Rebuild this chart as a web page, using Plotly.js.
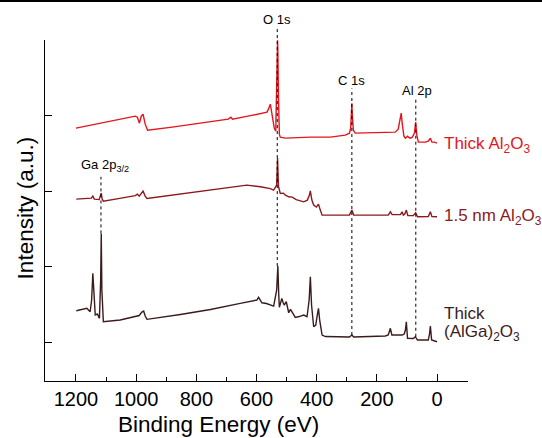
<!DOCTYPE html>
<html>
<head>
<meta charset="utf-8">
<script src="https://cdn.plot.ly/plotly-3.0.1.min.js"></script>
<style>html,body{margin:0;padding:0;background:#fff;}#chart{width:542px;height:438px;}</style>
</head>
<body>
<div id="chart"></div>
<script>
// Binding energy (eV) and intensity (a.u.) for each spectrum
const energyThickAl2O3 = [1200,1003,996,989,983,977,970,962,880,787,694,685,680,620,565,559,554,548,541,536,533,531,530,529,527,524,521,504,420,354,305,291,287,284,283,282,278,272,230,188,139,129,122,119,115,110,105,102,98,95,89,82,75,72,71,70,67,62,39,29,22,17,9,0];
const intensityThickAl2O3 = [253,265,264,258,265,267,257,251,254,258,262,264,262,265.5,269,273,277,266,253,250,285,330,341,330,285,247,244,243,244,244,246,248,253,270,278,268,251,248,248.5,248.5,249,252,263,268,256,245,243,244,245,244,243,244,248,256,259,255,246,239,239,240,243,239,239,238];

const energyThin = [1199,1159,1149,1144,1139,1123,1116,1113,1109,1050,1003,996,990,977,970,964,880,787,700,632,587,571,554,543,533,530,527,521,511,504,493,481,468,443,431,424,421,416,410,401,394,388,382,321,291,283,277,162,155,149,122,116,112,107,102,97,79,71,65,29,22,17,0];
const intensityThin = [182,182.5,183,185,182,181.5,188,182,180,183,185.5,187,185,190,185,182.7,186,189.5,193,196,194.3,193.5,192.5,191,196,223,195,187.7,188,186,184.3,184,181.5,179.3,181,186,190.3,181,176,174,177,171,166,166,166,171,166,166,169.3,166.5,166.5,169.3,166,167,171,165.5,165.5,168.3,164.3,164.5,169.3,164.5,164.3];

const energyThickAlGa = [1199,1164,1153,1148,1144,1140,1136,1129,1122,1118,1116,1114,1109,1053,998,990,981,975,970,964,853,753,654,621,599,593,582,567,554,543,533,529,526,524,520,516,511,508,501,493,487,479,471,458,443,432,425,421,417,410,403,398,394,390,382,371,321,291,283,277,172,162,155,150,125,116,109,105,102,98,79,72,65,29,25,22,18,0];
const intensityThickAlGa = [70.3,72.7,69.3,81,107.7,81,66,67,62.7,101,147.7,91,59.3,61,64.3,65.5,69,70,65,61.7,66.5,71.5,77.7,79.5,81,83.7,78.3,77.5,76.5,75,91,115,86,73.7,78,82.7,78,76,79.3,68.3,71.7,67,63.7,64.5,66,64.3,81,104.3,76,54.3,56,66,72.7,61,46,44.5,44.3,44,46,44,45,46,52.7,46,46,46,47,51,59.3,42.7,42.5,44.3,41,41,47,55,41,39.3];

const seriesNames = ['Thick Al<sub>2</sub>O<sub>3</sub>', '1.5 nm Al<sub>2</sub>O<sub>3</sub>', 'Thick', '(AlGa)<sub>2</sub>O<sub>3</sub>'];
const peakNames = ['Ga 2p<sub>3/2</sub>', 'O 1s', 'C 1s', 'Al 2p'];
const peakEnergies = [1117, 531, 283, 70.5];
const xTickVals = [1200, 1000, 800, 600, 400, 200, 0];

// layout/positions (not data)
const xRange = [1303, -103];
const yRange = [0, 341.2];
const colors = {thick: '#e3161d', thin: '#8c1a1d', alga: '#3a1c1c'};
const peakLabelPos = [{e:1104, y:216}, {e:532, y:362}, {e:284, y:300.3}, {e:65, y:291}];
const peakLineTop = [204.3, 354.3, 292.7, 282.7];

function yPaper(v){ return (v - yRange[0]) / (yRange[1] - yRange[0]); }
function xPaper(e){ return (xRange[0] - e) / (xRange[0] - xRange[1]); }
function peakOf(es, is, e0){ let m = -Infinity; es.forEach((e,i)=>{ if(Math.abs(e-e0)<=3 && is[i]>m) m = is[i]; }); return m; }

const traces = [
  {x: energyThickAl2O3, y: intensityThickAl2O3, mode:'lines', line:{color:colors.thick, width:1.4}},
  {x: energyThin, y: intensityThin, mode:'lines', line:{color:colors.thin, width:1.4}},
  {x: energyThickAlGa, y: intensityThickAlGa, mode:'lines', line:{color:colors.alga, width:1.4}}
];

const shapes = peakEnergies.map((e,i)=>({
  type:'line', xref:'paper', yref:'paper',
  x0:xPaper(e), x1:xPaper(e),
  y0:yPaper(peakOf(energyThickAlGa, intensityThickAlGa, e)), y1:yPaper(peakLineTop[i]),
  line:{color:'#000', width:1, dash:'dot'}
}));
shapes.push({type:'line', xref:'paper', yref:'paper', x0:-0.2, x1:1.3, y0:yPaper(380.3), y1:yPaper(380.3), line:{color:'#000', width:2}});

const font = 'Liberation Sans, Arial, sans-serif';
const annotations = peakNames.map((t,i)=>({
  text:t, xref:'x', yref:'paper', x:peakLabelPos[i].e, y:yPaper(peakLabelPos[i].y),
  xanchor:'center', yanchor:'middle', showarrow:false, font:{family:font, size:13, color:'#000'}
}));
const seriesLabelPos = [{y:236, c:colors.thick}, {y:164.3, c:colors.thin}, {y:67.7, c:colors.alga}, {y:47.7, c:colors.alga}];
seriesNames.forEach((t,i)=>annotations.push({
  text:t, xref:'x', yref:'paper', x:-16.6, y:yPaper(seriesLabelPos[i].y),
  xanchor:'left', yanchor:'middle', showarrow:false, font:{family:font, size:17, color:seriesLabelPos[i].c}
}));
annotations.push({text:'Binding Energy (eV)', xref:'paper', yref:'paper', x:0.41, y:yPaper(-44), xanchor:'center', yanchor:'middle', showarrow:false, font:{family:font, size:22.5, color:'#000'}});
annotations.push({text:'Intensity (a.u.)', xref:'paper', yref:'paper', x:-0.0466, y:yPaper(173), xanchor:'center', yanchor:'middle', textangle:-90, showarrow:false, font:{family:font, size:22.5, color:'#000'}});

const layout = {
  width:542, height:438,
  margin:{l:45, r:74, t:40, b:57},
  paper_bgcolor:'#fff', plot_bgcolor:'#fff',
  showlegend:false,
  xaxis:{range:xRange, tickmode:'array', tickvals:xTickVals, ticktext:xTickVals.map(String),
    ticks:'inside', ticklen:7, tickwidth:1.2, tickcolor:'#000',
    minor:{dtick:100, tick0:0, ticks:'inside', ticklen:4, tickwidth:1.2, tickcolor:'#000', showgrid:false},
    showline:true, linecolor:'#000', linewidth:1.3, showgrid:false, zeroline:false,
    tickfont:{family:font, size:20, color:'#000'}},
  yaxis:{range:yRange, tickmode:'linear', tick0:39, dtick:75.5, ticks:'inside', ticklen:7, tickwidth:1.2, tickcolor:'#000',
    showticklabels:false, showline:true, linecolor:'#000', linewidth:1.3, showgrid:false, zeroline:false},
  shapes:shapes, annotations:annotations
};
Plotly.newPlot('chart', traces, layout, {displayModeBar:false});
</script>
</body>
</html>
